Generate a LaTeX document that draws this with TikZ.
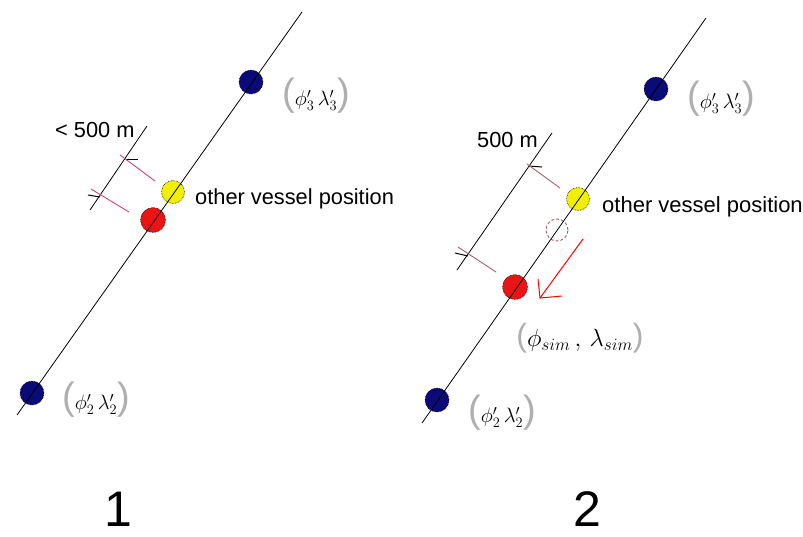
\documentclass[tikz,border=0pt]{standalone}
\usepackage{fontspec}
\setmainfont{Liberation Sans}
\definecolor{navy}{RGB}{10,10,120}
\definecolor{vyellow}{RGB}{240,240,0}
\definecolor{vred}{RGB}{235,20,20}
\definecolor{extred}{RGB}{205,70,110}
\definecolor{extbrown}{RGB}{165,95,105}
\definecolor{parcol}{RGB}{175,175,175}
\newcommand{\poslabel}[3]{{\fontsize{#1}{#1}\selectfont\color{parcol}(}{\fontsize{#2}{#2}\selectfont$#3$}{\fontsize{#1}{#1}\selectfont\color{parcol})}}
\tikzset{
  track/.style={draw=black, line width=0.8pt},
  dimline/.style={draw=black, line width=0.8pt},
  tickmark/.style={draw=black, line width=1pt},
  dot/.style={circle, inner sep=0pt, draw=black, densely dotted, line width=0.6pt},
  wp/.style={dot, fill=navy, minimum size=24pt},
  other/.style={dot, fill=vyellow, minimum size=23pt},
  own/.style={dot, fill=vred, minimum size=25pt},
  ghost/.style={circle, inner sep=0pt, draw=extbrown, densely dashed, line width=0.9pt, minimum size=22pt},
  ext/.style={draw=extred, line width=0.9pt},
  extb/.style={draw=extbrown, line width=0.9pt},
  redarrow/.style={draw=red, line width=1pt},
  lbl/.style={font=\fontsize{21.8}{24}\selectfont, inner sep=0pt, anchor=base west},
  plbl/.style={inner sep=0pt},
  big/.style={font=\fontsize{50}{54}\selectfont, inner sep=0pt, anchor=base}
}
\begin{document}
\begin{tikzpicture}[x=1pt,y=-1pt]
\useasboundingbox[fill=white] (0,0) rectangle (803,536);

% ---------- panel 1 ----------
\coordinate (t1s) at (17,415);
\coordinate (t1e) at (302,12);
\node[wp] (b1) at (251,82) {};
\node[wp] (a1) at (32,393) {};
\node[other] (o1) at (173,192) {};
\node[own] (r1) at (153,220) {};
\draw[track] (t1s) -- (t1e);

\coordinate (d1s) at (147,126);
\coordinate (d1e) at (90,210);
\draw[dimline] (d1s) -- (d1e);
\coordinate (k1a) at (126,159);
\coordinate (k1b) at (100,197);
\coordinate (k1aR) at (138,159);
\coordinate (k1bL) at (88,195);
\draw[tickmark] (k1a) -- (k1aR);
\draw[tickmark] (k1b) -- (k1bL);
\coordinate (e1s) at (120,155);
\coordinate (e1e) at (155,181);
\coordinate (e2s) at (91,189);
\coordinate (e2e) at (129,212);
\draw[ext] (e1s) -- (e1e);
\draw[ext] (e2s) -- (e2e);

\node[lbl] (dist1) at (55,137) {< 500 m};
\node[lbl] (ov1) at (195,204) {other vessel position};
\node[plbl] (lb1) at (316,96) {\poslabel{38}{22}{\phi'_3\,\lambda'_3}};
\node[plbl] (la1) at (96,400) {\poslabel{38}{22}{\phi'_2\,\lambda'_2}};
\node[big] (n1) at (118,526) {1};

% ---------- panel 2 ----------
\coordinate (t2s) at (422,423);
\coordinate (t2e) at (706,18);
\node[wp] (b2) at (656,89) {};
\node[wp] (a2) at (437,400) {};
\node[other] (o2) at (578,199) {};
\node[ghost] (g2) at (557,230) {};
\node[own] (r2) at (515,287) {};
\draw[track] (t2s) -- (t2e);

\coordinate (d2s) at (552,133);
\coordinate (d2e) at (457,270);
\draw[dimline] (d2s) -- (d2e);
\coordinate (k2a) at (529,166);
\coordinate (k2b) at (468,256);
\coordinate (k2aR) at (542,167);
\coordinate (k2bL) at (455,253);
\draw[tickmark] (k2a) -- (k2aR);
\draw[tickmark] (k2b) -- (k2bL);
\coordinate (e3s) at (527,164);
\coordinate (e3e) at (560,188);
\coordinate (e4s) at (458,247);
\coordinate (e4e) at (496,272);
\draw[extb] (e3s) -- (e3e);
\draw[extb] (e4s) -- (e4e);

\coordinate (as) at (583,239);
\coordinate (at) at (540,298);
\coordinate (aw1) at (538,279);
\coordinate (aw2) at (562,296);
\draw[redarrow] (as) -- (at);
\draw[redarrow] (aw1) -- (at) -- (aw2);

\node[lbl] (dist2) at (477,147) {500 m};
\node[lbl, font=\fontsize{22}{24}\selectfont] (ov2) at (602,212) {other vessel position};
\node[plbl] (lb2) at (721,99) {\poslabel{38}{22}{\phi'_3\,\lambda'_3}};
\node[plbl] (la2) at (502,413) {\poslabel{38}{22}{\phi'_2\,\lambda'_2}};
\node[plbl] (ls2) at (580,338) {\poslabel{32}{23}{\phi_{sim}\,,\,\lambda_{sim}}};
\node[big] (n2) at (587,526) {2};
\end{tikzpicture}
\end{document}
